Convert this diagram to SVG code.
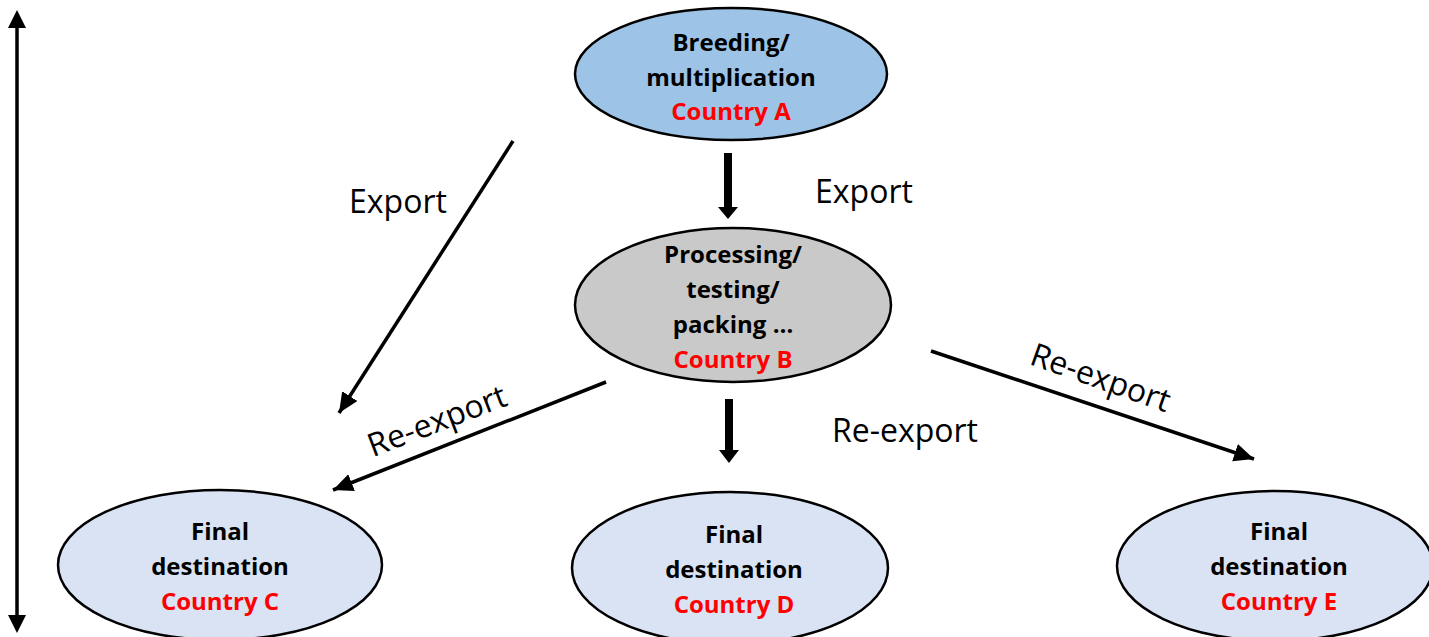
<svg xmlns="http://www.w3.org/2000/svg" width="1429" height="637" viewBox="0 0 1429 637">
<style>
.node{stroke:#000;stroke-width:2.5}
.t{font-family:"Open Sans","Liberation Sans",sans-serif;font-weight:bold;font-size:24px;text-anchor:middle;fill:#000}
.r{fill:#ff0000}
.lbl{font-family:"Open Sans","Liberation Sans",sans-serif;font-size:32px;text-anchor:middle;fill:#000}
.ln{stroke:#000;stroke-width:3.5;fill:none}
.thick{stroke:#000;stroke-width:8;fill:none}
</style>
<defs>
<marker id="ah" markerUnits="userSpaceOnUse" markerWidth="24" markerHeight="20" refX="20" refY="9" orient="auto">
<path d="M0,0 L20,9 L0,18 Z" fill="#000"/>
</marker>
</defs>
<g id="connectors">
<line class="ln" x1="17" y1="26" x2="17" y2="617"/>
<path d="M8,28 L17,10 L26,28 Z" fill="#000"/>
<path d="M8,615 L17,633 L26,615 Z" fill="#000"/>
<line class="thick" x1="728" y1="153" x2="728" y2="208"/>
<path d="M718,207 L738,207 L728,219 Z" fill="#000"/>
<line class="thick" x1="729" y1="399" x2="729" y2="451"/>
<path d="M719,450 L739,450 L729,463 Z" fill="#000"/>
<line class="ln" x1="513" y1="141" x2="339" y2="413" marker-end="url(#ah)"/>
<line class="ln" x1="606" y1="382" x2="333" y2="490" marker-end="url(#ah)"/>
<line class="ln" x1="931" y1="351" x2="1254" y2="459" marker-end="url(#ah)"/>
<text class="lbl" x="398" y="213">Export</text>
<text class="lbl" x="864" y="203">Export</text>
<text class="lbl" x="905" y="442">Re-export</text>
<text class="lbl" transform="translate(441,431) rotate(-21)" x="0" y="0">Re-export</text>
<text class="lbl" transform="translate(1097,388) rotate(19.5)" x="0" y="0">Re-export</text>
</g>
<g id="nodeA">
<ellipse class="node" cx="731" cy="74" rx="156" ry="66" fill="#9dc3e6"/>
<text class="t" x="731" y="51">Breeding/</text>
<text class="t" x="731" y="86">multiplication</text>
<text class="t r" x="731" y="120">Country A</text>
</g>
<g id="nodeB">
<ellipse class="node" cx="733" cy="305" rx="158" ry="77" fill="#c9c9c9"/>
<text class="t" x="733" y="263">Processing/</text>
<text class="t" x="733" y="298">testing/</text>
<text class="t" x="733" y="333">packing …</text>
<text class="t r" x="733" y="368">Country B</text>
</g>
<g id="nodeC">
<ellipse class="node" cx="220" cy="565" rx="162" ry="75" fill="#dae3f3"/>
<text class="t" x="220" y="540">Final</text>
<text class="t" x="220" y="575">destination</text>
<text class="t r" x="220" y="610">Country C</text>
</g>
<g id="nodeD">
<ellipse class="node" cx="730" cy="568" rx="158" ry="76" fill="#dae3f3"/>
<text class="t" x="734" y="543">Final</text>
<text class="t" x="734" y="578">destination</text>
<text class="t r" x="734" y="613">Country D</text>
</g>
<g id="nodeE">
<ellipse class="node" cx="1275" cy="566" rx="158" ry="75" fill="#dae3f3"/>
<text class="t" x="1279" y="540">Final</text>
<text class="t" x="1279" y="575">destination</text>
<text class="t r" x="1279" y="610">Country E</text>
</g>
</svg>
